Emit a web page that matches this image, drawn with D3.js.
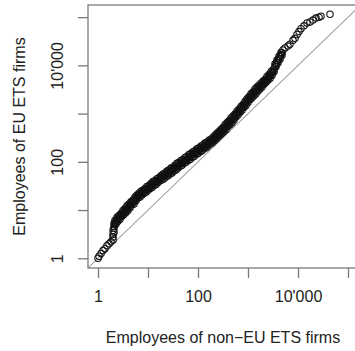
<!DOCTYPE html>
<html>
<head>
<meta charset="utf-8">
<script src="https://cdn.jsdelivr.net/npm/d3@7"></script>
<style>
  html, body { margin: 0; padding: 0; background: #fff; }
  svg { display: block; }
  text { font-family: "Liberation Sans", Arial, Helvetica, sans-serif; fill: #222; }
</style>
</head>
<body>
<svg id="chart" width="355" height="351"></svg>
<script>
// Quantile pairs: employees of non-EU ETS firms (x) against EU ETS firms (y).
// Lower and upper quantiles of the dense middle section.
const nonEuEmployees = [
  1, 1.05, 1.15, 1.26, 1.38, 1.51, 1.66, 1.82, 2.00,
  2.00, 2.00, 2.09, 2.00, 2.09, 2.09, 2.19, 2.09,
  2.19, 2.29, 2.40, 2.51, 2.63, 2.75, 2.88, 3.02, 3.16, 3.31, 3.47, 3.63, 3.80, 3.98, 4.17, 4.37,
  4.57, 4.79, 5.01, 5.25, 5.50, 5.75, 6.03, 6.31, 6.61, 6.92, 7.24, 7.59, 7.94, 8.32, 8.71, 9.12, 9.55,
  10.0, 10.5, 11.0, 11.5, 12.0, 12.6, 13.2, 13.8, 14.5, 15.1, 15.8, 16.6, 17.4, 18.2, 19.1, 20.0, 20.9,
  21.9, 22.9, 24.0, 25.1, 26.3, 27.5, 28.8, 30.2, 31.6, 33.1, 34.7, 36.3, 38.0, 39.8, 41.7, 43.7, 45.7,
  47.9, 50.1, 52.5, 55.0, 57.5, 60.3, 63.1, 66.1, 69.2, 72.4, 75.9, 79.4, 83.2, 87.1, 91.2, 95.5,
  100, 105, 110, 115, 120, 126, 132, 138, 145, 151, 158, 166, 174, 182, 191, 200, 209, 219, 229, 240,
  251, 263, 275, 288, 302, 316, 331, 347, 363, 380, 398, 417, 437, 457, 479, 501, 525, 550, 575, 603,
  631, 661, 692, 724, 759, 794, 832, 871, 912, 955,
  1000, 1047, 1096, 1148, 1202, 1259, 1318, 1380, 1445, 1514, 1585, 1660, 1738, 1820, 1905, 1995, 2089,
  2188, 2291, 2399, 2512, 2630, 2754, 2884, 3020, 3162, 3311, 3467, 3631, 3802, 3981, 4169, 4365, 4571, 4786,
  5012, 5495, 6310, 6918, 7943, 8710, 9550, 10471, 11482, 13183, 15136, 17378, 19953, 22909, 26303, 28840, 43652
];
const euEmployees = [
  1, 1.10, 1.26, 1.45, 1.58, 1.82, 2.00, 2.19, 2.40,
  2.75, 3.16, 3.47, 3.80, 4.17, 4.57, 5.01, 5.25,
  6.16, 5.12, 7.07, 5.88, 7.75, 6.44, 8.50, 7.40, 9.76, 8.12, 10.7, 8.90, 12.3, 9.79, 13.4, 11.2,
  14.8, 12.9, 16.2, 13.4, 18.6, 15.5, 20.4, 17.8, 22.4, 18.6, 24.5, 20.4, 25.6, 22.3, 28.1, 23.4, 30.8,
  25.6, 32.3, 28.1, 35.4, 29.5, 38.9, 32.3, 40.7, 33.8, 44.6, 37.1, 46.7, 40.7, 51.2, 42.6, 56.0, 44.5,
  58.8, 49.0, 64.4, 51.2, 67.5, 56.2, 74.0, 58.8, 77.5, 64.4, 85.0, 67.6, 93.2, 74.0, 97.6, 81.2, 107,
  85.0, 112, 93.5, 123, 97.9, 129, 107, 141, 112, 148, 123, 162, 129, 169, 141, 186,
  148, 195, 162, 214, 170, 224, 186, 245, 195, 256, 214, 281, 234, 295, 245, 323, 269, 354, 295, 389,
  323, 426, 354, 467, 389, 512, 426, 588, 467, 644, 537, 707, 588, 811, 644, 889, 740, 976, 850, 1120,
  932, 1228, 1070, 1410, 1173, 1546, 1347, 1775, 1477, 2038,
  1695, 2234, 1947, 2566, 2135, 2813, 2341, 3230, 2567, 3541, 2947, 3883, 3232, 4258, 3543, 4669, 4068,
  5120, 4461, 5878, 4891, 6444, 5363, 7400, 6157, 8113, 7403, 10696, 9319, 12860, 11204, 15460, 13471, 18588, 16195,
  20893, 22909, 25119, 27542, 33113, 36308, 43652, 50119, 57544, 66069, 75858, 79433, 87096, 95499, 100000, 104713, 114815
];

// Median quantiles along the same dense section
const nonEuEmployeesMid = [
  2.19, 2.29, 2.40, 2.51, 2.63, 2.75, 2.88, 3.02, 3.16, 3.31, 3.47, 3.63, 3.80, 3.98, 4.17, 4.37,
  4.57, 4.79, 5.01, 5.25, 5.50, 5.75, 6.03, 6.31, 6.61, 6.92, 7.24, 7.59, 7.94, 8.32, 8.71, 9.12, 9.55,
  10.0, 10.5, 11.0, 11.5, 12.0, 12.6, 13.2, 13.8, 14.5, 15.1, 15.8, 16.6, 17.4, 18.2, 19.1, 20.0, 20.9,
  21.9, 22.9, 24.0, 25.1, 26.3, 27.5, 28.8, 30.2, 31.6, 33.1, 34.7, 36.3, 38.0, 39.8, 41.7, 43.7, 45.7,
  47.9, 50.1, 52.5, 55.0, 57.5, 60.3, 63.1, 66.1, 69.2, 72.4, 75.9, 79.4, 83.2, 87.1, 91.2, 95.5,
  100, 105, 110, 115, 120, 126, 132, 138, 145, 151, 158, 166, 174, 182, 191, 200, 209, 219, 229, 240,
  251, 263, 275, 288, 302, 316, 331, 347, 363, 380, 398, 417, 437, 457, 479, 501, 525, 550, 575, 603,
  631, 661, 692, 724, 759, 794, 832, 871, 912, 955,
  1000, 1047, 1096, 1148, 1202, 1259, 1318, 1380, 1445, 1514, 1585, 1660, 1738, 1820, 1905, 1995, 2089,
  2188, 2291, 2399, 2512, 2630, 2754, 2884, 3020, 3162, 3311, 3467, 3631, 3802, 3981, 4169, 4365, 4571, 4786
];
const euEmployeesMid = [
  5.50, 5.75, 6.31, 6.61, 6.92, 7.24, 7.59, 8.32, 8.71, 9.12, 9.55, 10.0, 11.0, 11.0, 12.0, 12.6,
  13.2, 14.5, 14.5, 15.1, 16.6, 17.4, 18.2, 20.0, 20.0, 20.9, 21.9, 22.9, 22.9, 25.1, 25.1, 26.3, 27.5,
  28.8, 28.8, 31.6, 31.6, 33.1, 34.7, 36.3, 36.3, 38.0, 39.8, 41.7, 41.7, 45.7, 45.7, 47.9, 50.0, 50.0,
  52.5, 55.0, 57.5, 57.5, 60.3, 63.1, 66.1, 66.1, 69.2, 72.4, 75.9, 75.9, 83.2, 83.2, 87.1, 91.2, 95.5,
  95.5, 100, 105, 110, 110, 115, 120, 126, 126, 132, 138, 145, 145, 151, 158, 166,
  166, 174, 182, 191, 191, 200, 209, 219, 219, 229, 240, 251, 263, 263, 275, 288, 302, 316, 331, 347,
  363, 380, 398, 417, 437, 457, 479, 525, 525, 575, 603, 631, 661, 724, 724, 794, 832, 871, 955, 1000,
  1047, 1096, 1202, 1259, 1318, 1380, 1514, 1585, 1660, 1820,
  1905, 1995, 2188, 2291, 2399, 2512, 2630, 2884, 2884, 3162, 3311, 3467, 3631, 3802, 3981, 4169, 4571,
  4571, 5012, 5248, 5495, 5754, 6026, 6607, 6918, 7244, 8318, 9550, 10471, 11482, 12589, 13804, 15136, 16596, 18197
];

// Axis limits (before the usual 4% padding) and tick marks
const xLimits = [1, 100000];
const yLimits = [1, 112200];
const tickValues = [1, 10, 100, 1000, 10000, 100000];
const tickLabels = ["1", "", "100", "", "10'000", ""];

const xTitle = "Employees of non\u2212EU ETS firms";
const yTitle = "Employees of EU ETS firms";

// Plot region in pixels
const box = { left: 88, right: 358, top: 5, bottom: 268 };

function padLog(lim) {
  const a = Math.log10(lim[0]), b = Math.log10(lim[1]);
  const p = (b - a) * 0.04;
  return [Math.pow(10, a - p), Math.pow(10, b + p)];
}

const x = d3.scaleLog().domain(padLog(xLimits)).range([box.left, box.right]);
const y = d3.scaleLog().domain(padLog(yLimits)).range([box.bottom, box.top]);

const svg = d3.select("#chart");
const axisColor = "#7a7a7a";

// Clip for marks inside the plot region
svg.append("defs").append("clipPath").attr("id", "plotClip")
  .append("rect")
  .attr("x", box.left).attr("y", box.top)
  .attr("width", box.right - box.left).attr("height", box.bottom - box.top);

// Reference line y = x
const plot = svg.append("g").attr("clip-path", "url(#plotClip)");
const lineDom = x.domain();
plot.append("line")
  .attr("x1", x(lineDom[0])).attr("y1", y(lineDom[0]))
  .attr("x2", x(lineDom[1])).attr("y2", y(lineDom[1]))
  .attr("stroke", "#a0a0a0").attr("stroke-width", 1.1);

// Quantile points
const pairs = nonEuEmployees.map((v, i) => [v, euEmployees[i]])
  .concat(nonEuEmployeesMid.map((v, i) => [v, euEmployeesMid[i]]));
plot.append("g")
  .selectAll("circle")
  .data(pairs)
  .join("circle")
  .attr("cx", d => x(d[0]))
  .attr("cy", d => y(d[1]))
  .attr("r", 3.2)
  .attr("fill", "none")
  .attr("stroke", "#111")
  .attr("stroke-width", 1.1);

// Frame
svg.append("rect")
  .attr("x", box.left).attr("y", box.top)
  .attr("width", box.right - box.left).attr("height", box.bottom - box.top)
  .attr("fill", "none").attr("stroke", axisColor).attr("stroke-width", 1.3);

// X axis
const xAxis = d3.axisBottom(x)
  .tickValues(tickValues)
  .tickFormat((d, i) => tickLabels[i])
  .tickSize(10)
  .tickPadding(13);
const gx = svg.append("g").attr("transform", `translate(0,${box.bottom})`).call(xAxis);
gx.select(".domain").remove();
gx.selectAll(".tick line").attr("stroke", axisColor).attr("stroke-width", 1.3);
gx.selectAll(".tick text")
  .style("font-family", '"Liberation Sans", Arial, sans-serif')
  .style("font-size", "16px").attr("fill", "#222");

// Y axis with labels turned parallel to the axis
const yAxis = d3.axisLeft(y)
  .tickValues(tickValues)
  .tickFormat((d, i) => tickLabels[i])
  .tickSize(10);
const gy = svg.append("g").attr("transform", `translate(${box.left},0)`).call(yAxis);
gy.select(".domain").remove();
gy.selectAll(".tick line").attr("stroke", axisColor).attr("stroke-width", 1.3);
gy.selectAll(".tick text")
  .attr("x", null).attr("dy", null)
  .attr("transform", "translate(-25,0) rotate(-90)")
  .attr("text-anchor", "middle")
  .style("font-family", '"Liberation Sans", Arial, sans-serif')
  .style("font-size", "16px").attr("fill", "#222");

// Axis titles
svg.append("text")
  .attr("x", (box.left + box.right) / 2).attr("y", 343)
  .attr("text-anchor", "middle")
  .style("font-size", "16px")
  .text(xTitle);

svg.append("text")
  .attr("transform", `translate(25,${(box.top + box.bottom) / 2}) rotate(-90)`)
  .attr("text-anchor", "middle")
  .style("font-size", "16px")
  .text(yTitle);
</script>
</body>
</html>
